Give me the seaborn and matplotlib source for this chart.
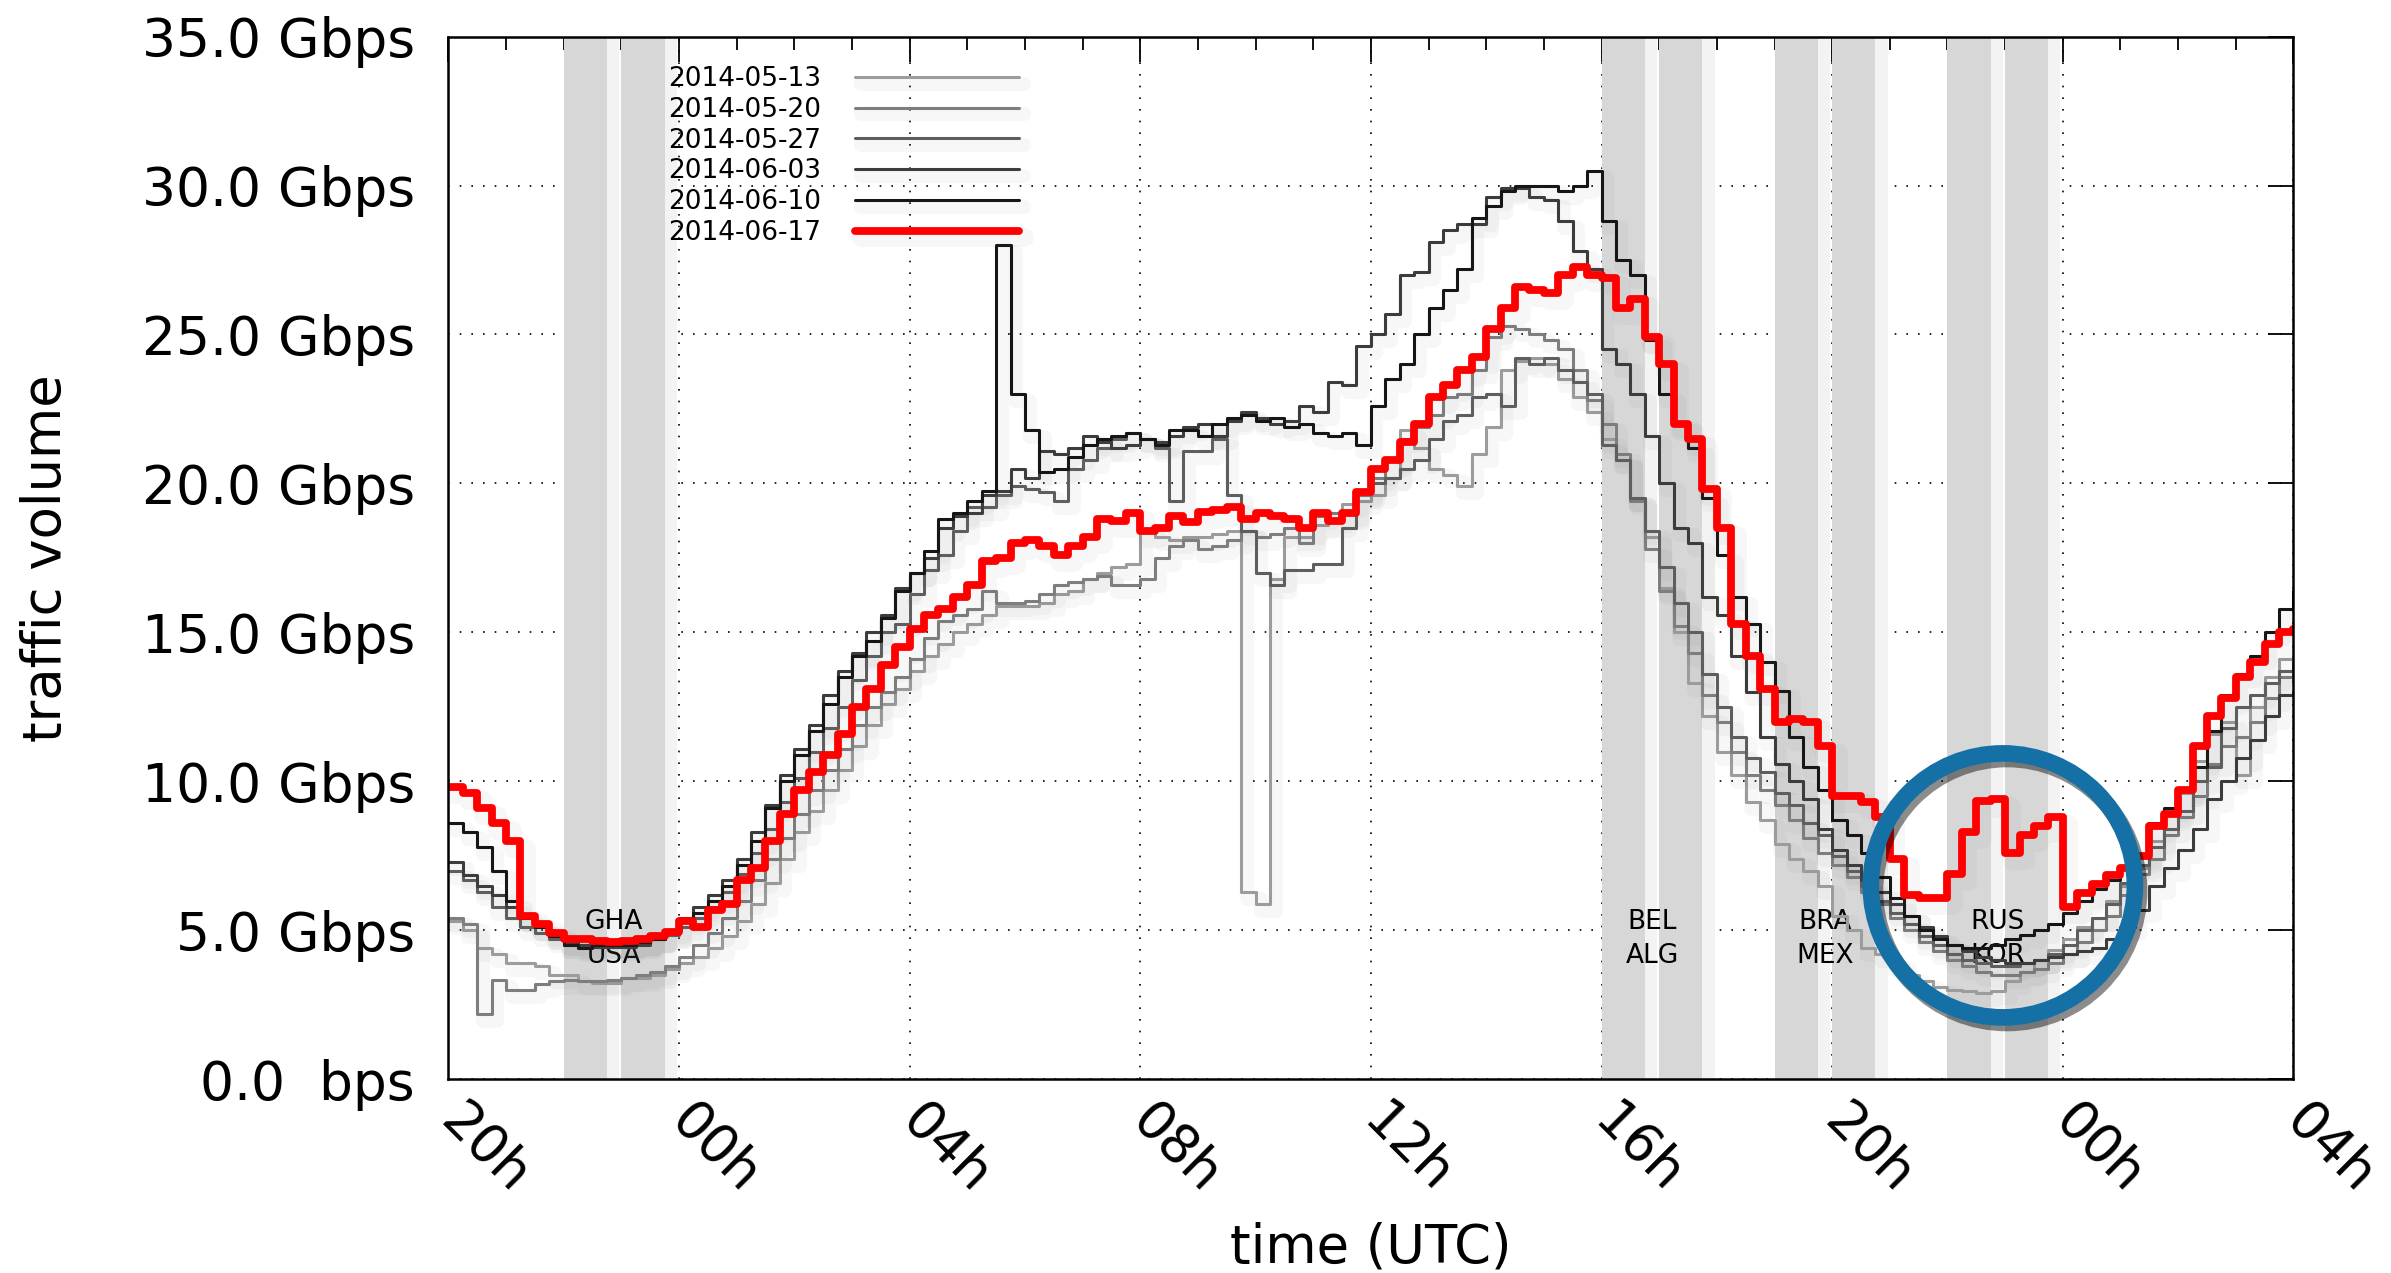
import numpy as np
import matplotlib
matplotlib.use("Agg")
import matplotlib.pyplot as plt
import matplotlib.patheffects as pe
from matplotlib.patches import Ellipse
from matplotlib.ticker import MultipleLocator, FuncFormatter
import seaborn as sns

# time axis: hours after 20:00 UTC, 15 min samples over 32 hours
hours = np.arange(0, 32.01, 0.25)

# traffic in Gbps, one value per 15 min
tr_0513 = [5.3, 5.0, 4.4, 4.2, 3.9, 3.9, 3.8, 3.5, 3.5, 3.3, 3.25, 3.25, 3.4, 3.4, 3.5, 3.7,
           3.9, 4.1, 4.4, 4.8, 5.3, 5.9, 6.6, 7.4, 8.3, 9.0, 9.7, 10.4, 11.2, 11.9, 12.6, 13.1,
           13.7, 14.2, 14.6, 15.0, 15.3, 15.6, 15.9, 15.9, 15.9, 16.0, 16.3, 16.4, 16.8, 17.0, 17.2, 17.3,
           18.4, 18.2, 18.1, 18.2, 18.2, 18.3, 18.4, 6.3, 5.9, 16.8, 18.2, 18.2, 18.6, 18.8, 19.3, 19.4,
           19.6, 20.2, 21.8, 21.2, 20.5, 20.3, 19.9, 21.0, 21.9, 23.8, 24.1, 24.2, 24.0, 23.5, 22.9, 22.4,
           21.5, 20.8, 19.5, 18.2, 16.5, 15.0, 13.3, 12.2, 11.0, 10.2, 9.3, 8.7, 7.9, 7.4, 7.0, 6.5,
           5.5, 5.0, 4.4, 4.2, 3.9, 3.5, 3.3, 3.1, 3.0, 2.95, 2.9, 2.95, 3.3, 3.6, 4.0, 4.35,
           4.7, 5.1, 5.4, 6.0, 6.5, 7.1, 8.0, 8.9, 9.6, 10.7, 11.6, 12.0, 10.2, 12.5, 13.5, 14.1,
           14.2]
tr_0520 = [5.4, 5.2, 2.2, 3.35, 3.0, 3.0, 3.2, 3.3, 3.35, 3.3, 3.3, 3.35, 3.4, 3.5, 3.6, 3.8,
           4.1, 4.5, 4.9, 5.4, 6.0, 6.7, 7.4, 8.1, 8.9, 9.7, 10.4, 11.1, 11.9, 12.5, 13.0, 13.5,
           14.1, 14.8, 15.4, 15.6, 15.8, 16.4, 16.0, 16.0, 16.05, 16.3, 16.6, 16.7, 16.8, 16.9, 16.6, 16.6,
           16.8, 17.5, 17.9, 18.1, 17.8, 17.9, 18.1, 18.4, 18.2, 18.3, 18.5, 18.0, 18.9, 19.0, 19.0, 19.6,
           20.2, 20.8, 21.5, 21.9, 22.3, 22.9, 23.0, 23.8, 24.9, 25.3, 25.2, 25.0, 24.8, 24.5, 23.8, 22.8,
           22.0, 21.0, 19.4, 17.8, 16.4, 15.2, 14.3, 12.9, 12.0, 11.0, 10.2, 9.7, 9.2, 8.7, 8.1, 7.6,
           7.2, 6.8, 6.3, 5.9, 5.4, 5.0, 4.6, 4.3, 4.0, 3.8, 3.6, 3.5, 3.5, 3.6, 3.7, 3.9,
           4.2, 4.6, 5.0, 5.5, 6.2, 6.9, 7.4, 8.2, 8.8, 9.5, 10.6, 11.2, 11.5, 12.0, 12.8, 13.5,
           13.8]
tr_0527 = [7.0, 6.7, 6.3, 5.8, 5.4, 5.1, 4.9, 4.7, 4.5, 4.45, 4.45, 4.5, 4.5, 4.55, 4.7, 4.85,
           5.1, 5.4, 5.8, 6.3, 6.9, 7.6, 8.4, 9.3, 10.1, 11.0, 11.8, 12.5, 13.4, 14.2, 15.0, 15.3,
           16.3, 17.1, 17.6, 18.4, 19.2, 19.2, 19.6, 19.9, 19.8, 19.7, 19.4, 20.5, 20.8, 21.2, 21.5, 21.7,
           21.5, 21.2, 19.4, 21.1, 21.1, 21.5, 19.6, 18.4, 17.0, 16.6, 17.1, 17.1, 17.3, 17.3, 18.5, 19.7,
           20.0, 20.2, 20.5, 20.8, 21.5, 22.1, 22.3, 22.9, 23.0, 22.6, 24.2, 24.0, 24.2, 23.8, 23.4, 23.0,
           21.3, 20.8, 19.5, 18.4, 17.2, 16.0, 15.0, 13.6, 12.5, 11.5, 10.8, 10.3, 9.6, 9.2, 8.6, 8.2,
           7.5, 7.0, 6.5, 6.0, 5.6, 5.2, 4.8, 4.5, 4.2, 4.0, 3.9, 3.8, 3.8, 3.9, 4.0, 4.2,
           4.5, 5.0, 5.4, 5.9, 6.6, 7.2, 7.8, 8.4, 9.0, 10.0, 10.5, 11.8, 12.5, 12.9, 13.3, 13.7,
           14.0]
tr_0603 = [7.3, 6.85, 6.5, 6.2, 5.8, 5.4, 5.1, 4.9, 4.6, 4.5, 4.45, 4.45, 4.45, 4.5, 4.7, 4.9,
           5.4, 5.8, 6.2, 6.7, 7.4, 8.3, 9.2, 10.2, 11.1, 11.9, 12.9, 13.7, 14.3, 15.0, 15.6, 16.5,
           17.0, 17.5, 18.5, 18.9, 19.0, 19.6, 19.75, 20.5, 20.2, 21.1, 21.0, 21.2, 21.6, 21.4, 21.2, 21.3,
           21.5, 21.4, 21.6, 21.9, 22.0, 21.6, 22.1, 22.4, 22.2, 22.0, 22.1, 22.6, 22.4, 23.4, 23.3, 24.6,
           25.0, 25.7, 27.0, 27.1, 28.1, 28.5, 28.7, 28.7, 29.6, 29.9, 29.9, 29.6, 29.5, 28.8, 27.8, 27.2,
           24.5, 24.0, 23.0, 21.6, 20.0, 18.5, 18.0, 16.2, 15.6, 14.2, 13.0, 11.5, 10.6, 10.0, 9.4, 8.4,
           7.7, 7.2, 6.7, 6.3, 5.9, 5.5, 5.1, 4.8, 4.5, 4.3, 4.1, 4.0, 3.9, 3.9, 4.0, 4.1,
           4.2, 4.3, 4.4, 4.7, 5.1, 5.7, 6.5, 7.1, 7.7, 8.4, 9.4, 10.0, 10.8, 11.4, 12.2, 12.9,
           13.0]
tr_0610 = [8.6, 8.3, 7.8, 7.0, 6.0, 5.4, 5.1, 4.8, 4.5, 4.4, 4.5, 4.5, 4.5, 4.6, 4.7, 5.0,
           5.3, 5.6, 6.0, 6.5, 7.2, 8.0, 9.1, 10.0, 10.9, 11.7, 12.6, 13.5, 14.2, 14.7, 15.5, 16.4,
           17.0, 17.75, 18.8, 19.0, 19.4, 19.75, 28.0, 23.0, 21.8, 20.4, 20.5, 20.9, 21.3, 21.5, 21.6, 21.7,
           21.5, 21.3, 21.8, 21.8, 21.6, 22.0, 22.2, 22.3, 22.1, 22.2, 21.9, 22.0, 21.7, 21.6, 21.7, 21.3,
           22.6, 23.5, 24.0, 25.0, 25.9, 26.5, 27.2, 28.9, 29.3, 29.8, 30.0, 30.0, 30.0, 29.8, 30.0, 30.5,
           28.8, 27.5, 27.0, 24.8, 23.0, 22.0, 21.2, 19.5, 17.6, 16.2, 15.3, 14.0, 13.05, 11.5, 10.5, 9.7,
           8.7, 8.2, 7.6, 6.8, 6.1, 5.5, 5.0, 4.7, 4.5, 4.4, 4.4, 4.5, 4.7, 4.85, 5.0, 5.2,
           5.6, 6.0, 6.4, 6.7, 7.1, 7.5, 8.6, 9.1, 9.7, 10.5, 11.7, 12.9, 13.6, 14.2, 15.0, 15.8,
           16.4]
tr_0617 = [9.8, 9.6, 9.1, 8.6, 8.0, 5.5, 5.2, 4.9, 4.7, 4.7, 4.65, 4.6, 4.65, 4.7, 4.8, 4.95,
           5.3, 5.1, 5.7, 5.9, 6.7, 7.1, 8.0, 8.9, 9.7, 10.3, 10.9, 11.6, 12.5, 13.1, 13.9, 14.5,
           15.1, 15.6, 15.8, 16.2, 16.6, 17.4, 17.5, 18.0, 18.1, 17.9, 17.6, 17.9, 18.2, 18.8, 18.75, 19.0,
           18.4, 18.5, 18.9, 18.7, 19.05, 19.1, 19.2, 18.8, 19.0, 18.9, 18.8, 18.5, 19.0, 18.75, 19.0, 19.7,
           20.5, 20.8, 21.4, 22.0, 22.9, 23.3, 23.8, 24.25, 25.2, 25.9, 26.6, 26.5, 26.4, 27.0, 27.25, 27.0,
           26.9, 25.9, 26.2, 24.9, 24.0, 22.0, 21.5, 19.8, 18.5, 15.3, 14.2, 13.1, 12.0, 12.1, 12.0, 11.2,
           9.5, 9.5, 9.3, 8.8, 7.4, 6.2, 6.1, 6.1, 6.9, 8.3, 9.35, 9.4, 7.6, 8.2, 8.5, 8.8,
           5.8, 6.25, 6.55, 6.85, 7.1, 7.5, 8.5, 8.9, 9.7, 11.2, 12.2, 12.8, 13.5, 14.0, 14.6, 15.0,
           15.1]

series_names = ["2014-05-13", "2014-05-20", "2014-05-27", "2014-06-03", "2014-06-10", "2014-06-17"]
series_values = [tr_0513, tr_0520, tr_0527, tr_0603, tr_0610, tr_0617]
series_colors = ["#9c9c9c", "#7e7e7e", "#5e5e5e", "#3c3c3c", "#161616", "#ff0000"]
series_widths = [2.2, 2.2, 2.2, 2.2, 2.2, 5.6]

# world cup matches (kick-off in hours after 20:00 UTC)
match_kickoff = [2.0, 20.0, 23.0, 26.0]
match_home = ["GHA", "BEL", "BRA", "RUS"]
match_away = ["USA", "ALG", "MEX", "KOR"]

x_tick_labels = ["20h", "00h", "04h", "08h", "12h", "16h", "20h", "00h", "04h"]

# highlighted region (hours, Gbps)
circle_center = (26.96, 6.51)
circle_size = (4.58, 8.86)

sns.set_style("white")
plt.rcParams["font.family"] = ["DejaVu Sans"]
plt.rcParams["text.color"] = "black"
plt.rcParams["axes.labelcolor"] = "black"
plt.rcParams["xtick.color"] = "black"
plt.rcParams["ytick.color"] = "black"

fig = plt.figure(figsize=(23.91, 12.73), dpi=100)
ax = fig.add_axes([0.1875, 0.1521, 0.7717, 0.8192])

ax.grid(True, which="major", color="black", linestyle=(0, (1, 6)), linewidth=1.2)
ax.set_axisbelow(True)

# match halves with their soft shadow
for k, home, away in zip(match_kickoff, match_home, match_away):
    for start in (k, k + 1.0):
        ax.axvspan(start + 0.21, start + 0.96, color="#f3f3f3", lw=0, zorder=0.9)
    for start in (k, k + 1.0):
        ax.axvspan(start, start + 0.75, color="#d7d7d7", lw=0, zorder=1)
    ax.text(k + 0.875, 5.27, home, ha="center", va="center", fontsize=19, color="black", zorder=1.5)
    ax.text(k + 0.875, 4.14, away, ha="center", va="center", fontsize=19, color="black", zorder=1.5)

handles = []
for name, vals, col, lw in zip(series_names, series_values, series_colors, series_widths):
    sns.lineplot(x=hours, y=vals, ax=ax, color=col, linewidth=lw, drawstyle="steps-post",
                 estimator=None, sort=False, legend=False)
    line = ax.lines[-1]
    line.set_label(name)
    line.set_path_effects([pe.SimpleLineShadow(offset=(4, -5), shadow_color="0.4", alpha=0.05,
                                               linewidth=lw + 8), pe.Normal()])
    handles.append(line)

ring = Ellipse(circle_center, width=circle_size[0], height=circle_size[1], fill=False,
               edgecolor="#1570a6", lw=12, zorder=5,
               path_effects=[pe.SimpleLineShadow(offset=(3, -4), shadow_color="k", alpha=0.45),
                             pe.Normal()])
ax.add_patch(ring)

ax.set_xlim(0, 32)
ax.set_ylim(0, 35)
ax.set_xticks(range(0, 33, 4))
ax.set_xticklabels(x_tick_labels, rotation=-45, ha="left", va="center", rotation_mode="anchor")
ax.xaxis.set_minor_locator(MultipleLocator(1))
ax.set_yticks(range(0, 36, 5))
ax.yaxis.set_major_formatter(FuncFormatter(lambda v, p: "0.0  bps" if v == 0 else f"{v:.1f} Gbps"))

ax.tick_params(which="both", direction="in", top=True, right=True, width=1.3, color="black",
               labelcolor="black", labelsize=38.5)
ax.tick_params(which="major", length=18)
ax.tick_params(which="minor", length=9)
ax.tick_params(axis="y", pad=24)
ax.tick_params(axis="x", pad=24)
for sp in ax.spines.values():
    sp.set_linewidth(1.8)
    sp.set_color("black")

ax.set_ylabel("traffic volume", fontsize=38, va="center", color="black")
ax.yaxis.set_label_coords(-0.218, 0.5)
ax.set_xlabel("time (UTC)", fontsize=38, va="center", color="black")
ax.xaxis.set_label_coords(0.5, -0.161)

leg = ax.legend(handles=handles, labels=series_names, loc="upper left", frameon=False,
                bbox_to_anchor=(668 / 2391, 1 - 66 / 1273), bbox_transform=fig.transFigure,
                markerfirst=False, fontsize=19, handlelength=6.2, handletextpad=1.3,
                labelspacing=0.18, borderpad=0, borderaxespad=0)
for t in leg.get_texts():
    t.set_color("black")

fig.savefig("out.png", dpi=100)
